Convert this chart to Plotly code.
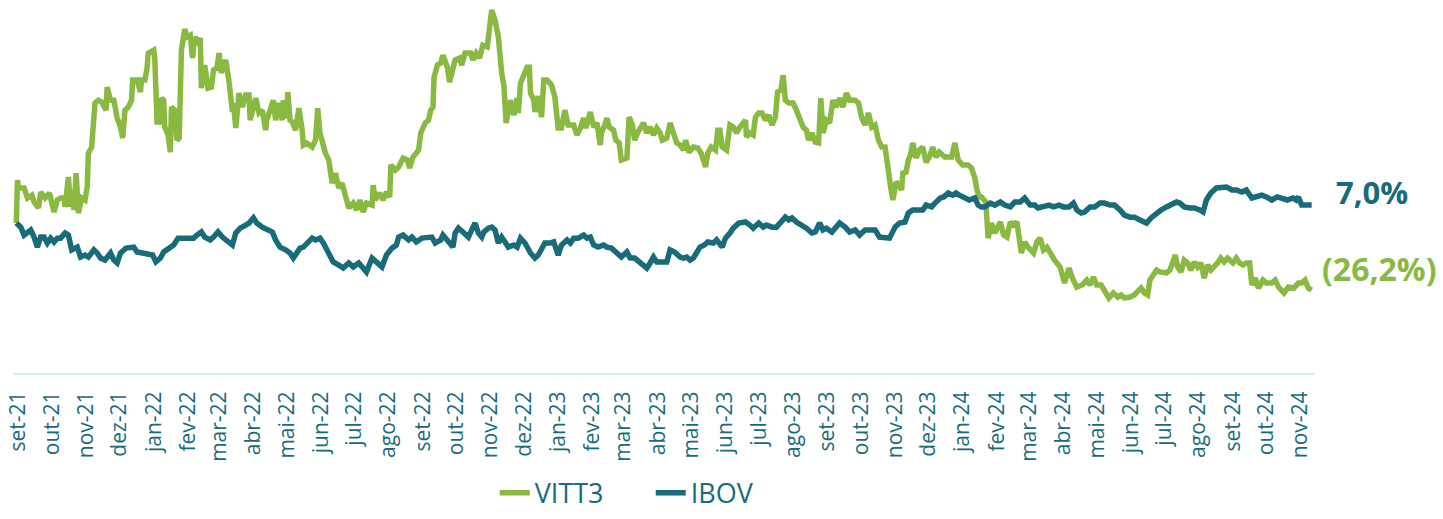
import pandas as pd
import plotly.graph_objects as go

START = "2021-08-30"

MONTH_LABELS = ["set-21", "out-21", "nov-21", "dez-21",
                "jan-22", "fev-22", "mar-22", "abr-22", "mai-22", "jun-22", "jul-22", "ago-22",
                "set-22", "out-22", "nov-22", "dez-22",
                "jan-23", "fev-23", "mar-23", "abr-23", "mai-23", "jun-23", "jul-23", "ago-23",
                "set-23", "out-23", "nov-23", "dez-23",
                "jan-24", "fev-24", "mar-24", "abr-24", "mai-24", "jun-24", "jul-24", "ago-24",
                "set-24", "out-24", "nov-24"]

# days elapsed since START, and cumulative return (%)
VITT3_DAYS = [0,1,2,7,10,14,16,20,22,26,30,32,34,37,40,43,44,47,49,51,52,54,56,59,62,64,65,68,71,74,77,81,82,85,88,91,94,96,98,101,104,105,109,112,113,116,118,119,124,125,127,129,131,133,134,137,139,140,143,145,147,149,152,154,157,159,161,164,166,167,170,173,176,178,181,183,185,187,189,192,195,196,198,201,204,207,210,211,214,216,219,222,225,226,229,232,234,237,240,241,244,245,247,249,252,255,258,259,262,267,270,272,274,279,282,285,288,291,294,297,300,304,307,310,313,316,321,322,324,328,331,334,337,338,342,345,349,353,355,358,363,365,369,372,374,376,377,380,383,385,389,391,394,396,400,402,405,410,412,415,418,421,425,426,429,432,435,438,440,442,446,449,452,453,455,458,461,463,464,467,468,471,473,474,476,479,483,486,489,492,495,498,503,506,509,512,514,518,521,524,527,528,531,533,535,539,541,544,546,551,553,556,558,561,566,569,572,575,578,581,583,587,590,593,596,599,602,604,607,611,615,618,622,624,627,631,633,635,637,641,644,647,650,653,658,659,662,665,667,670,673,676,679,682,685,687,690,692,694,697,701,704,707,710,713,715,718,721,724,726,728,731,734,737,740,743,746,749,752,757,760,763,766,769,772,775,778,781,784,786,789,791,794,797,799,800,803,805,807,809,812,815,818,821,824,827,830,833,838,841,844,847,850,854,859,862,865,867,869,871,875,877,880,883,888,891,894,897,900,903,905,907,910,913,918,921,924,927,930,933,937,942,946,950,953,957,962,966,969,972,975,979,982,986,990,994,997,1000,1005,1009,1013,1015,1018,1021,1023,1026,1029,1032,1035,1038,1041,1044,1046,1048,1051,1054,1057,1060,1063,1066,1069,1072,1075,1078,1081,1084,1087,1090,1093,1098,1101,1104,1107,1110,1113,1115,1118,1121,1125,1128,1133,1136,1139,1144,1148,1153,1157,1160,1163,1166,1169]
VITT3_PCT = [0.0,16.8,13.7,13.7,9.8,10.9,8.2,5.9,12.1,9.8,11.7,7.8,4.3,9.0,9.8,9.8,6.3,18.0,6.3,12.9,5.1,19.5,3.9,9.8,9.0,14.1,27.3,29.7,46.9,48.0,47.3,44.1,53.1,48.0,48.0,41.0,37.5,33.2,44.1,45.3,48.0,55.9,55.9,51.2,55.9,55.9,60.5,66.4,67.6,63.7,39.5,39.5,48.8,48.0,37.5,34.4,27.7,45.3,44.1,32.4,33.2,67.6,75.8,72.7,73.4,64.5,72.7,70.7,72.3,52.7,61.7,52.7,53.1,59.8,60.5,66.4,58.6,61.7,63.7,55.1,43.4,46.9,37.1,50.8,45.3,50.0,50.0,40.2,46.9,48.8,43.0,44.1,36.3,40.2,44.1,48.0,40.2,46.9,40.2,48.0,41.0,51.2,40.2,39.5,36.3,44.9,36.3,30.5,31.3,29.7,32.4,44.9,35.2,27.3,24.6,15.6,19.5,13.7,15.6,10.2,5.9,7.8,5.1,9.0,4.3,7.8,7.0,14.8,9.0,11.7,9.0,12.1,10.2,22.7,20.7,21.9,25.4,24.6,21.5,25.8,28.5,35.2,39.1,40.2,44.1,45.3,57.0,61.7,62.5,65.6,60.9,55.1,60.9,63.7,64.5,61.7,66.4,66.4,63.7,66.4,64.5,69.5,68.8,73.4,83.2,79.3,72.7,58.6,53.9,39.1,48.0,42.2,48.8,43.0,54.7,57.8,60.9,60.9,50.8,48.0,43.4,49.6,41.4,41.4,55.9,55.9,53.9,49.2,37.1,37.1,44.1,38.3,38.3,34.4,37.1,41.0,37.1,43.4,37.5,39.1,30.5,35.2,38.3,41.0,37.5,36.3,32.4,31.3,24.6,25.4,41.4,38.3,32.4,35.5,39.1,35.2,37.5,34.4,37.1,35.2,32.4,33.2,39.1,35.2,31.3,30.5,28.5,32.4,27.7,29.7,29.3,27.3,21.9,27.3,29.7,28.5,36.3,36.3,29.7,28.5,38.3,37.5,35.2,37.5,40.2,33.6,35.2,34.4,41.4,43.0,43.0,40.2,42.2,38.3,41.4,51.2,52.0,57.8,48.0,46.9,46.9,44.1,40.2,37.5,36.3,32.4,35.2,31.6,31.3,48.8,35.2,40.2,39.1,48.0,45.3,48.8,45.3,50.8,48.0,48.0,46.9,41.0,38.3,43.0,37.5,38.3,32.4,29.7,29.7,21.9,14.1,9.0,16.0,14.8,12.9,19.5,19.9,24.6,26.6,31.3,25.4,28.5,29.7,23.8,25.8,29.7,25.8,27.7,25.8,25.8,25.8,31.3,24.6,22.7,22.7,21.5,17.6,12.9,10.2,10.2,8.2,-5.9,0.0,-3.9,0.4,-4.7,-5.5,0.4,-0.8,0.4,-7.4,-11.7,-7.4,-9.4,-11.7,-7.4,-5.9,-10.5,-9.4,-11.7,-14.5,-17.2,-23.4,-17.6,-21.5,-25.0,-24.2,-22.3,-24.2,-21.1,-24.2,-24.2,-26.2,-29.3,-27.3,-28.9,-28.1,-29.3,-28.9,-28.1,-26.2,-25.4,-27.3,-28.1,-22.3,-20.3,-18.4,-19.1,-19.1,-19.5,-18.4,-15.6,-12.5,-17.2,-19.1,-14.5,-15.6,-18.4,-15.2,-17.2,-15.6,-21.5,-16.4,-18.4,-17.2,-15.6,-13.7,-15.2,-13.7,-15.6,-13.7,-15.6,-16.4,-15.6,-15.6,-24.2,-21.5,-25.4,-22.3,-23.4,-23.4,-22.3,-25.0,-27.3,-25.0,-25.4,-23.4,-23.4,-22.3,-25.4,-26.2]

IBOV_DAYS = [0,4,7,10,13,16,19,22,25,28,31,34,37,40,44,47,50,55,58,62,65,70,73,76,80,85,88,91,94,99,103,106,109,113,118,123,126,130,133,137,142,146,151,155,160,163,167,170,175,178,182,186,190,195,198,202,207,210,214,217,222,226,231,234,238,243,247,250,253,256,259,262,267,270,274,277,282,286,291,295,300,304,309,312,316,321,325,330,334,339,343,345,349,354,357,361,366,370,375,378,383,385,390,394,396,399,403,408,411,414,417,420,422,426,429,432,435,438,441,444,449,452,455,459,464,468,471,474,477,482,485,489,492,497,500,503,507,512,515,518,521,525,530,533,537,542,546,551,554,558,563,566,569,572,575,578,582,587,590,594,599,602,605,608,611,614,617,621,624,629,632,637,640,644,647,652,655,658,662,665,670,674,677,682,686,691,694,697,700,704,709,713,718,721,725,728,731,736,739,743,748,752,757,761,766,770,775,779,784,788,793,797,802,805,809,814,818,821,826,829,834,837,841,845,848,851,856,860,865,868,871,874,879,883,888,892,897,901,906,910,915,919,922,927,932,936,941,945,950,954,957,961,964,969,973,978,982,987,991,996,1000,1005,1009,1014,1020,1024,1029,1033,1038,1042,1047,1050,1054,1059,1063,1068,1071,1074,1078,1083,1087,1092,1097,1101,1106,1110,1115,1120,1124,1128,1133,1138,1142,1147,1152,1155,1157,1160,1165,1169]
IBOV_PCT = [0.0,-1.6,-4.7,-3.9,-2.7,-5.5,-9.4,-5.5,-5.5,-7.8,-5.9,-7.4,-5.9,-5.9,-3.9,-4.7,-10.5,-9.4,-13.3,-12.5,-13.3,-10.5,-11.7,-13.7,-14.5,-11.7,-14.5,-15.6,-11.7,-9.8,-9.8,-9.4,-11.3,-11.7,-11.7,-12.5,-15.2,-13.7,-11.3,-9.8,-8.6,-5.9,-5.9,-5.5,-5.9,-4.7,-3.5,-5.5,-6.6,-5.5,-3.5,-5.5,-6.6,-8.6,-3.9,-2.0,-0.8,0.0,2.0,0.0,-1.6,-2.7,-3.5,-6.6,-9.4,-10.5,-11.7,-13.7,-11.7,-9.8,-9.4,-7.8,-5.9,-6.6,-5.9,-7.8,-11.7,-15.2,-16.4,-17.6,-15.6,-17.2,-15.6,-17.2,-19.1,-13.7,-15.6,-17.2,-12.5,-9.8,-8.6,-5.5,-4.7,-6.6,-5.5,-7.4,-5.9,-5.9,-5.5,-7.8,-6.6,-4.7,-7.8,-9.4,-3.9,-2.0,-3.5,-5.5,-2.7,0.0,-3.9,-5.5,-3.5,-2.0,-1.6,-2.7,-7.8,-5.5,-7.4,-9.4,-8.6,-9.4,-5.9,-7.8,-11.7,-13.7,-12.5,-9.8,-7.8,-7.8,-7.4,-12.5,-8.6,-6.6,-7.8,-5.9,-5.9,-4.7,-5.9,-5.5,-8.6,-9.4,-8.6,-9.4,-9.8,-11.7,-13.3,-11.3,-13.7,-13.7,-15.2,-16.4,-17.6,-15.6,-13.3,-15.2,-15.2,-15.2,-10.5,-11.3,-13.3,-13.7,-13.3,-14.5,-13.7,-11.3,-9.4,-8.6,-7.4,-7.8,-6.6,-9.4,-5.9,-3.9,-2.0,0.0,0.0,0.4,-0.8,-2.0,0.0,-1.6,-0.8,-1.6,-1.6,1.2,2.3,1.2,2.0,0.4,-0.8,-2.0,-3.9,-3.5,0.0,-2.7,-2.0,-3.5,-2.0,0.0,-1.6,-3.5,-2.7,-4.7,-2.7,-2.7,-2.7,-5.5,-5.5,-5.9,-1.6,0.0,0.4,3.9,5.1,5.1,5.1,7.0,6.3,7.8,9.8,10.2,11.7,10.9,11.7,10.9,9.8,9.0,9.8,7.0,6.3,6.3,7.8,7.0,8.2,7.0,6.3,8.2,8.2,9.8,7.0,7.0,5.9,6.3,7.0,6.3,7.0,6.3,6.3,7.8,5.1,3.9,4.3,6.3,6.3,7.8,7.8,7.0,7.0,5.1,3.1,2.3,2.3,1.2,0.0,2.0,3.9,5.1,6.3,7.0,8.2,7.8,6.3,5.9,5.9,5.1,4.3,9.0,11.7,13.7,14.1,14.1,12.9,12.9,12.1,12.9,9.8,10.2,10.9,10.2,9.0,10.2,9.8,9.0,9.8,9.0,10.2,7.0,7.0,7.0]

GREEN = "#8AB942"
TEAL = "#186C79"
FONT = "Open Sans"

start = pd.Timestamp(START)
def to_dates(days):
    return [start + pd.Timedelta(days=d) for d in days]

tick_dates = pd.date_range("2021-09-01", periods=len(MONTH_LABELS), freq="MS")

fig = go.Figure()
fig.add_trace(go.Scatter(x=to_dates(VITT3_DAYS), y=VITT3_PCT, mode="lines", name="VITT3",
                         line=dict(color=GREEN, width=5.5)))
fig.add_trace(go.Scatter(x=to_dates(IBOV_DAYS), y=IBOV_PCT, mode="lines", name="IBOV",
                         line=dict(color=TEAL, width=5.5)))

fig.add_annotation(x=1.0146, xref="paper", y=12.0, yref="y", text="<b>7,0%</b>",
                   showarrow=False, xanchor="left", yanchor="middle",
                   font=dict(family=FONT, size=31, color=TEAL))
fig.add_annotation(x=1.0036, xref="paper", y=-17.8, yref="y", text="<b>(26,2%)</b>",
                   showarrow=False, xanchor="left", yanchor="middle",
                   font=dict(family=FONT, size=32, color=GREEN))

fig.update_layout(
    width=1443, height=519,
    margin=dict(l=13, r=128, t=5, b=146, autoexpand=False),
    paper_bgcolor="white", plot_bgcolor="white",
    font=dict(family=FONT, color=TEAL),
    showlegend=True,
    legend=dict(orientation="h", x=0.370, xanchor="left", y=-0.393, yanchor="bottom",
                font=dict(family=FONT, size=27, color=TEAL),
                entrywidth=111, entrywidthmode="pixels",
                bgcolor="rgba(0,0,0,0)"),
    xaxis=dict(
        range=[start - pd.Timedelta(days=3), start + pd.Timedelta(days=1172)],
        tickvals=list(tick_dates), ticktext=MONTH_LABELS, tickangle=-90,
        tickfont=dict(family=FONT, size=21, color=TEAL),
        showgrid=False, zeroline=False, showline=True, linecolor="#D3EEF4", linewidth=2,
        ticks="", ticklabelstandoff=8, automargin=False, ticklabeloverflow="allow",
    ),
    yaxis=dict(range=[-58.6, 85.2], visible=False, showgrid=False, zeroline=False,
               automargin=False),
)

# remove the default page margin so the figure fills the window exactly
fig.write_html("out.html",
               config={"displayModeBar": False},
               post_script="document.body.style.margin='0';document.body.style.overflow='hidden';")
